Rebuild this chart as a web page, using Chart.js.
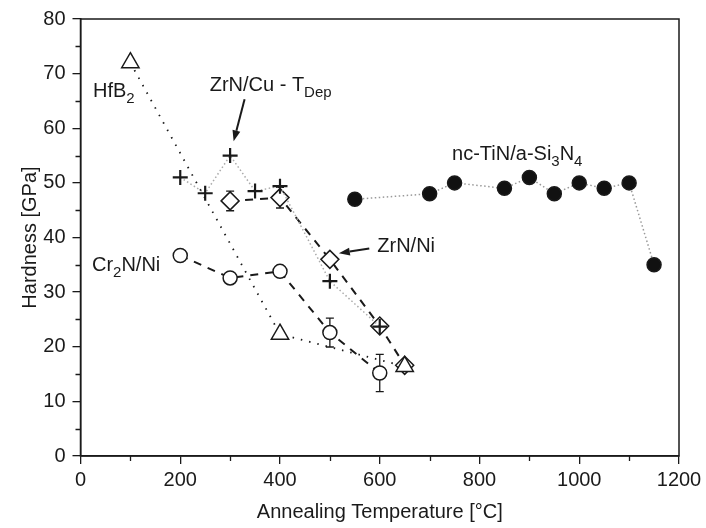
<!DOCTYPE html>
<html>
<head>
<meta charset="utf-8">
<script src="https://cdn.jsdelivr.net/npm/chart.js@4.4.1/dist/chart.umd.min.js"></script>
<style>
  html, body { margin: 0; padding: 0; background: #fff; }
  #wrap { width: 706px; height: 528px; }
</style>
</head>
<body>
<div id="wrap"><canvas id="hardness-chart" width="706" height="528"></canvas></div>
<script>
// Hardness vs annealing temperature for several nanocomposite coatings
const hfb2Temp = [100, 400, 650];
const hfb2Hard = [72, 22.3, 16.4];

const zrnCuTemp = [200, 250, 300, 350, 400, 500, 600];
const zrnCuHard = [51, 48.1, 55, 48.5, 49.4, 32, 23.7];

const zrnNiTemp = [300, 400, 500, 600, 650];
const zrnNiHard = [46.7, 47.3, 36, 23.8, 16.6];
const zrnNiErr = [1.8, 1.9, 0.8, 0.8, 0.8];

const cr2nTemp = [200, 300, 400, 500, 600];
const cr2nHard = [36.7, 32.6, 33.8, 22.6, 15.2];
const cr2nErr = [0, 0.5, 0, 2.65, 3.4];

const tinTemp = [550, 700, 750, 850, 900, 950, 1000, 1050, 1100, 1150];
const tinHard = [47, 48, 50, 49, 51, 48, 50, 49, 50, 35];

const xTicks = [0, 200, 400, 600, 800, 1000, 1200];
const yTicks = [0, 10, 20, 30, 40, 50, 60, 70, 80];

const INK = '#1a1a1a';
const FONT = '"Liberation Sans", Arial, Helvetica, sans-serif';

const toPoints = (xs, ys) => xs.map((x, i) => ({ x: x, y: ys[i] }));

// text labels: [text, isSubscript] pieces, placed in data coords (left, baseline)
const labels = [
    { x: 25, y: 65.7, parts: [['HfB', 0], ['2', 1]] },
    { x: 259, y: 66.8, parts: [['ZrN/Cu - T', 0], ['Dep', 1]] },
    { x: 595, y: 37.3, parts: [['ZrN/Ni', 0]] },
    { x: 23, y: 33.8, parts: [['Cr', 0], ['2', 1], ['N/Ni', 0]] },
    { x: 745, y: 54.1, parts: [['nc-TiN/a-Si', 0], ['3', 1], ['N', 0], ['4', 1]] }
];
const arrows = [
    { from: [329, 65.3], to: [307, 57.6] },
    { from: [579, 38], to: [518, 37.1] }
];

const errorSets = [
    { xs: zrnNiTemp, ys: zrnNiHard, err: zrnNiErr },
    { xs: cr2nTemp, ys: cr2nHard, err: cr2nErr }
];

const decorPlugin = {
    id: 'decor',
    beforeDatasetsDraw(chart) {
        const { ctx, scales: { x, y } } = chart;
        ctx.save();
        ctx.strokeStyle = INK;
        ctx.lineWidth = 1.3;
        errorSets.forEach(set => {
            set.xs.forEach((t, i) => {
                if (!set.err[i]) return;
                const px = x.getPixelForValue(t);
                const top = y.getPixelForValue(set.ys[i] + set.err[i]);
                const bot = y.getPixelForValue(set.ys[i] - set.err[i]);
                ctx.beginPath();
                ctx.moveTo(px, top); ctx.lineTo(px, bot);
                ctx.moveTo(px - 4, top); ctx.lineTo(px + 4, top);
                ctx.moveTo(px - 4, bot); ctx.lineTo(px + 4, bot);
                ctx.stroke();
            });
        });
        ctx.restore();
    },
    afterDraw(chart) {
        const { ctx, chartArea: a, scales: { x, y } } = chart;
        ctx.save();
        // frame
        ctx.strokeStyle = INK;
        ctx.lineWidth = 1.5;
        ctx.strokeRect(a.left, a.top, a.right - a.left, a.bottom - a.top);
        // minor ticks
        ctx.lineWidth = 1.3;
        ctx.beginPath();
        for (let v = 100; v < 1200; v += 200) {
            const px = Math.round(x.getPixelForValue(v)) + 0.5;
            ctx.moveTo(px, a.bottom); ctx.lineTo(px, a.bottom + 5);
        }
        for (let v = 5; v < 80; v += 10) {
            const py = Math.round(y.getPixelForValue(v)) + 0.5;
            ctx.moveTo(a.left, py); ctx.lineTo(a.left - 5, py);
        }
        ctx.stroke();

        // arrows
        ctx.fillStyle = INK;
        ctx.lineWidth = 2;
        arrows.forEach(ar => {
            const x0 = x.getPixelForValue(ar.from[0]), y0 = y.getPixelForValue(ar.from[1]);
            const x1 = x.getPixelForValue(ar.to[0]), y1 = y.getPixelForValue(ar.to[1]);
            const ang = Math.atan2(y1 - y0, x1 - x0);
            const hl = 11, hw = 4;
            const bx = x1 - Math.cos(ang) * hl, by = y1 - Math.sin(ang) * hl;
            ctx.beginPath();
            ctx.moveTo(x0, y0); ctx.lineTo(bx, by);
            ctx.stroke();
            ctx.beginPath();
            ctx.moveTo(x1, y1);
            ctx.lineTo(bx + Math.sin(ang) * hw, by - Math.cos(ang) * hw);
            ctx.lineTo(bx - Math.sin(ang) * hw, by + Math.cos(ang) * hw);
            ctx.closePath();
            ctx.fill();
        });

        // labels with subscripts
        ctx.textBaseline = 'alphabetic';
        ctx.textAlign = 'left';
        ctx.fillStyle = INK;
        labels.forEach(lb => {
            let px = x.getPixelForValue(lb.x);
            const py = y.getPixelForValue(lb.y);
            lb.parts.forEach(([txt, sub]) => {
                ctx.font = sub ? `15px ${FONT}` : `20px ${FONT}`;
                ctx.fillText(txt, px, sub ? py + 6 : py);
                px += ctx.measureText(txt).width;
            });
        });
        ctx.restore();
    }
};

const lineSet = (label, xs, ys, opts) => Object.assign({
    label: label,
    data: toPoints(xs, ys),
    showLine: true,
    borderColor: INK,
    borderWidth: 2,
    pointBorderColor: INK,
    pointBackgroundColor: '#fff',
    pointBorderWidth: 1.5,
    pointHoverRadius: 0
}, opts);

new Chart(document.getElementById('hardness-chart').getContext('2d'), {
    type: 'scatter',
    data: {
        datasets: [
            lineSet('HfB2', hfb2Temp, hfb2Hard, {
                borderWidth: 1.8, borderDash: [1.5, 7], pointStyle: 'triangle', pointRadius: 10, order: 1
            }),
            lineSet('ZrN/Ni', zrnNiTemp, zrnNiHard, {
                borderDash: [8, 7], pointStyle: 'rectRot', pointRadius: 9, order: 3
            }),
            lineSet('Cr2N/Ni', cr2nTemp, cr2nHard, {
                borderDash: [8, 7], pointStyle: 'circle', pointRadius: 7, order: 4
            }),
            lineSet('ZrN/Cu', zrnCuTemp, zrnCuHard, {
                borderColor: '#aaa', borderWidth: 1.5, borderDash: [1.5, 2.5],
                pointStyle: 'cross', pointRadius: 7.5, pointBorderWidth: 2.2, order: 2
            }),
            lineSet('nc-TiN/a-Si3N4', tinTemp, tinHard, {
                borderColor: '#999', borderWidth: 1.5, borderDash: [1.5, 2.5],
                pointStyle: 'circle', pointRadius: 7, pointBackgroundColor: '#111', order: 5
            })
        ]
    },
    options: {
        responsive: false,
        animation: false,
        events: [],
        layout: { padding: { top: 14, right: 27, left: 0, bottom: 0 } },
        plugins: { legend: { display: false }, tooltip: { enabled: false } },
        scales: {
            x: {
                type: 'linear',
                min: 0, max: 1200,
                afterFit: s => { s.height = 72; },
                afterBuildTicks: s => { s.ticks = xTicks.map(v => ({ value: v })); },
                ticks: {
                    color: INK, font: { family: FONT, size: 20 }, padding: 4, maxRotation: 0,
                    callback: v => String(v)
                },
                grid: { drawOnChartArea: false, tickLength: 8, color: INK, lineWidth: 1.3 },
                border: { color: INK, width: 1.5 },
                title: {
                    display: true, text: 'Annealing Temperature [°C]', color: INK,
                    font: { family: FONT, size: 20 }, padding: { top: 4, bottom: 4 }
                }
            },
            y: {
                type: 'linear',
                min: 0, max: 80,
                afterFit: s => { s.width = 80.5; },
                afterBuildTicks: s => { s.ticks = yTicks.map(v => ({ value: v })); },
                ticks: { color: INK, font: { family: FONT, size: 20 }, padding: 7, callback: v => String(v) },
                grid: { drawOnChartArea: false, tickLength: 8, color: INK, lineWidth: 1.3 },
                border: { color: INK, width: 1.5 },
                title: {
                    display: true, text: 'Hardness [GPa]', color: INK,
                    font: { family: FONT, size: 20 }, padding: { top: 18, bottom: 0 }
                }
            }
        }
    },
    plugins: [decorPlugin]
});
</script>
</body>
</html>
